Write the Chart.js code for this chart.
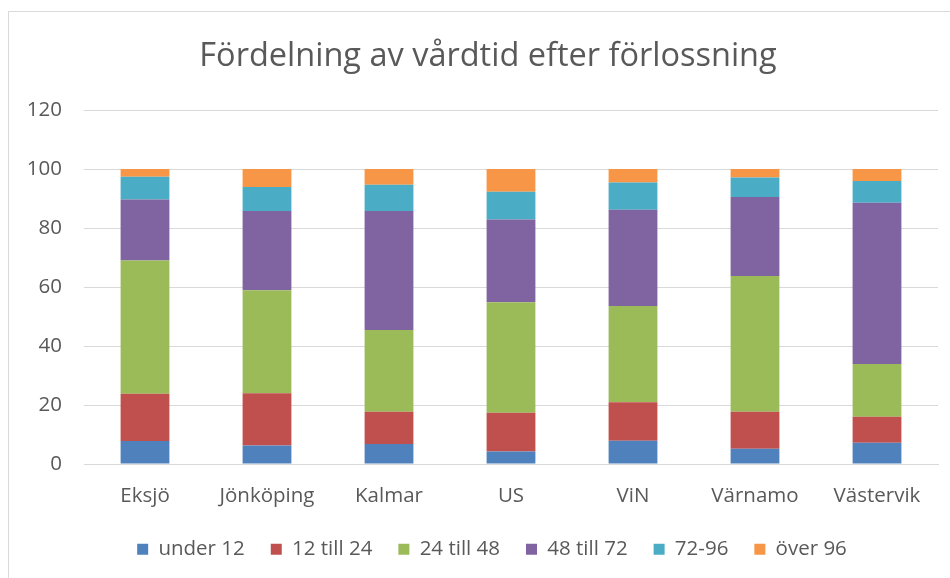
<!DOCTYPE html>
<html>
<head>
<meta charset="utf-8">
<script src="https://cdn.jsdelivr.net/npm/chart.js@4.4.0/dist/chart.umd.min.js"></script>
<style>
  html, body { margin: 0; padding: 0; background: #ffffff; }
  #wrap { position: relative; width: 950px; height: 578px; overflow: hidden; }
  #frame { position: absolute; left: 8px; top: 11px; width: 1000px; height: 1000px; border: 1px solid #d9d9d9; box-sizing: border-box; }
  canvas { position: absolute; left: 0; top: 0; }
</style>
</head>
<body>
<div id="wrap">
  <div id="frame"></div>
  <canvas id="c" width="950" height="578"></canvas>
</div>
<script>
const categories = ["Eksjö", "Jönköping", "Kalmar", "US", "ViN", "Värnamo", "Västervik"];
const seriesNames = ["under 12", "12 till 24", "24 till 48", "48 till 72", "72-96", "över 96"];
const under12   = [7.8, 6.3, 6.8, 4.2, 7.9, 5.2, 7.2];
const t12to24   = [16.0, 17.7, 10.9, 13.2, 13.0, 12.5, 8.8];
const t24to48   = [45.2, 34.9, 27.7, 37.4, 32.7, 46.0, 17.9];
const t48to72   = [20.7, 26.9, 40.4, 28.1, 32.6, 26.8, 54.7];
const t72to96   = [7.7, 8.1, 8.9, 9.4, 9.2, 6.6, 7.3];
const over96    = [2.6, 6.1, 5.3, 7.7, 4.6, 2.9, 4.1];
const yTicks    = [0, 20, 40, 60, 80, 100, 120];
const titleText = "Fördelning av vårdtid efter förlossning";

const colors = ["#4F81BD", "#C0504D", "#9BBB59", "#8064A2", "#4BACC6", "#F79646"];
const allSeries = [under12, t12to24, t24to48, t48to72, t72to96, over96];

const FONT = "'Open Sans', Lato, sans-serif";
const TXT = "#595959";
const LEGEND_HEIGHT = 65;

const layoutTweaks = {
  id: "layoutTweaks",
  beforeLayout(chart) {
    const lg = chart.legend;
    if (lg && !lg._fixedFit) {
      const orig = lg.fit.bind(lg);
      lg.fit = function () { orig(); this.height = LEGEND_HEIGHT; };
      lg._fixedFit = true;
    }
  },
  afterLayout(chart) {
    // reference centres title and legend on a wider frame than the visible area
    if (chart.titleBlock) { chart.titleBlock.left += 19; chart.titleBlock.right += 19; }
    if (chart.legend) { chart.legend.left += 23; chart.legend.right += 23; }
  }
};

new Chart(document.getElementById("c"), {
  type: "bar",
  data: {
    labels: categories,
    datasets: allSeries.map((d, i) => ({
      label: seriesNames[i],
      data: d,
      backgroundColor: colors[i],
      borderWidth: 0,
      barPercentage: 0.8,
      categoryPercentage: 0.5
    }))
  },
  plugins: [layoutTweaks],
  options: {
    responsive: false,
    animation: false,
    devicePixelRatio: 1,
    layout: { padding: { left: 0, right: 12, top: 0, bottom: 0 } },
    plugins: {
      title: {
        display: true,
        text: titleText,
        color: TXT,
        font: { family: FONT, size: 32.5, weight: "normal" },
        padding: { top: 37.5, bottom: 33.5 }
      },
      legend: {
        position: "bottom",
        labels: {
          color: TXT,
          font: { family: FONT, size: 20.5 },
          boxWidth: 11,
          boxHeight: 11,
          padding: 26
        }
      },
      tooltip: { enabled: false }
    },
    scales: {
      x: {
        stacked: true,
        grid: { display: false, drawTicks: false },
        border: { display: true, color: "#d9d9d9", width: 1 },
        ticks: { color: TXT, font: { family: FONT, size: 20.5 }, padding: 20, maxRotation: 0 },
        afterFit: (s) => { s.height = 49; }
      },
      y: {
        stacked: true,
        min: 0,
        max: 120,
        afterBuildTicks: (s) => { s.ticks = yTicks.map(v => ({ value: v })); },
        grid: { color: "#d9d9d9", drawTicks: false },
        border: { display: false },
        ticks: { color: TXT, font: { family: FONT, size: 20.5 }, padding: 22 },
        afterFit: (s) => { s.width = 84; }
      }
    }
  }
});
</script>
</body>
</html>
